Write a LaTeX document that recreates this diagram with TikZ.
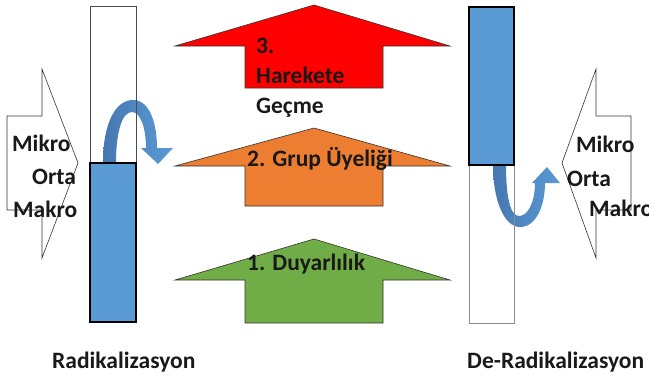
\documentclass[tikz,border=0pt]{standalone}
\usepackage{fontspec}
\setmainfont{Carlito}
\begin{document}
\begin{tikzpicture}[x=1bp,y=-1bp,
  lbl/.style={font=\fontsize{23.5bp}{30bp}\selectfont\bfseries, text=black!90, inner sep=0pt, anchor=base west},
  blockarrow/.style={draw=black!80, line width=0.6bp, line join=miter},
  curved/.style={left color=blueD, right color=blueL, draw=none},
  barline/.style={draw=black!70, line width=0.8bp}]
\definecolor{blueL}{HTML}{5B9BD5}
\definecolor{blueD}{HTML}{4677B0}
\definecolor{redA}{HTML}{FF0000}
\definecolor{orangeA}{HTML}{ED7D31}
\definecolor{greenA}{HTML}{70AD47}
\useasboundingbox (0,0) rectangle (649,381);

% left side block arrow (pointing right)
\draw[blockarrow, fill=white] (7,116) -- (42,116) -- (42,69) -- (78,163) -- (42,258) -- (42,210) -- (7,210) -- cycle;
% right side block arrow (pointing left)
\draw[blockarrow, fill=white] (631,116) -- (596,116) -- (596,69) -- (562,163) -- (596,258) -- (596,210) -- (631,210) -- cycle;

% up arrows
\draw[blockarrow, fill=redA] (314,5) -- (450,46) -- (383,46) -- (383,88) -- (245,88) -- (245,46) -- (175,46) -- cycle;
\draw[blockarrow, fill=orangeA] (314,128) -- (450,166) -- (383,166) -- (383,206) -- (245,206) -- (245,166) -- (175,166) -- cycle;
\draw[blockarrow, fill=greenA] (314,239) -- (450,280) -- (383,280) -- (383,323) -- (245,323) -- (245,280) -- (175,280) -- cycle;

% left bar
\fill[blueL] (90,163) rectangle (136,322);
% right bar
\fill[blueL] (469,7) rectangle (514,165);

% curved arrows
\path[curved] (103,163) .. controls (103,122) and (116,100) .. (133,100)
  .. controls (150,100) and (157,124) .. (157,148) -- (173,148) -- (158,164) -- (141,148) -- (146,148)
  .. controls (146,127) and (140,112) .. (132,112)
  .. controls (122,112) and (116,132) .. (116,163) -- cycle;
\path[curved] (493,165) .. controls (493,200) and (504,227) .. (520,227)
  .. controls (536,227) and (545,206) .. (545,183) -- (560,183) -- (547,167) -- (532,183) -- (535,183)
  .. controls (535,202) and (528,216) .. (519,216)
  .. controls (510,216) and (506,196) .. (506,165) -- cycle;

% bar outlines
\draw[barline] (90,6) rectangle (136,322);
\draw[draw=black, line width=1.4bp] (90,163) rectangle (136,322);
\draw[draw=black!45, line width=1bp] (469,7) rectangle (514,323);
\draw[draw=black, line width=1.4bp] (469,7) rectangle (514,165);

% texts
\node[lbl] (mikroL) at (12,151) {Mikro};
\node[lbl] (ortaL) at (32,184) {Orta};
\node[lbl] (makroL) at (13,217) {Makro};
\node[lbl] (mikroR) at (576,152) {Mikro};
\node[lbl] (ortaR) at (567,186) {Orta};
\node[lbl] (makroR) at (589,216) {Makro};
\node[lbl, align=left] (t3) at (256,113) {3.\\Harekete\\Geçme};
\node[lbl] (t2) at (247,166) {2. Grup Üyeliği};
\node[lbl] (t1) at (247,270) {1. Duyarlılık};
\node[lbl] (rad) at (52,368) {Radikalizasyon};
\node[lbl] (derad) at (467,368) {De-Radikalizasyon};
\end{tikzpicture}
\end{document}
